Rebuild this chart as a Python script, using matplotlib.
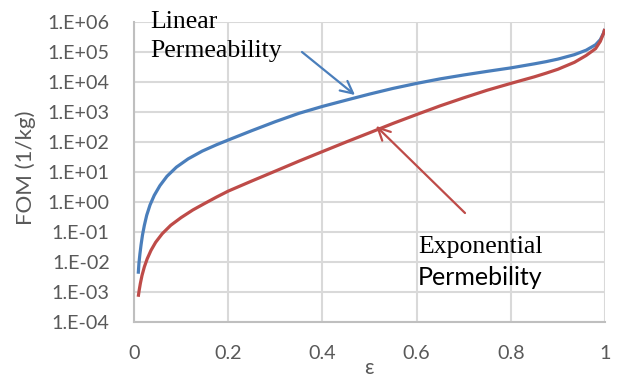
import numpy as np
import matplotlib
matplotlib.use("Agg")
import matplotlib.pyplot as plt
from matplotlib.ticker import FixedLocator, FixedFormatter

# Figure of merit vs. porosity for the two permeability models
eps_linear = [0.009, 0.0105, 0.0125, 0.015, 0.018, 0.022, 0.027, 0.034, 0.043, 0.055,
              0.07, 0.09, 0.115, 0.145, 0.175, 0.2, 0.25, 0.3, 0.35, 0.4, 0.45, 0.5,
              0.55, 0.6, 0.65, 0.7, 0.75, 0.8, 0.85, 0.875, 0.9, 0.935, 0.96, 0.98,
              0.99, 0.997, 0.9995]
fom_linear = [4.0e-3, 8.9e-3, 1.8e-2, 3.7e-2, 7.8e-2, 1.66e-1, 3.6e-1, 7.9e-1, 1.66e0, 3.5e0,
              7.2e0, 1.45e1, 2.75e1, 5.0e1, 8.1e1, 1.17e2, 2.4e2, 4.8e2, 9.1e2, 1.55e3,
              2.5e3, 4.0e3, 6.2e3, 9.1e3, 1.29e4, 1.74e4, 2.3e4, 3.0e4, 4.1e4, 4.85e4,
              5.9e4, 8.3e4, 1.17e5, 1.78e5, 2.63e5, 4.4e5, 6.0e5]

eps_expon = [0.009, 0.011, 0.0135, 0.017, 0.022, 0.028, 0.036, 0.046, 0.06, 0.078,
             0.1, 0.125, 0.15, 0.175, 0.2, 0.25, 0.3, 0.35, 0.4, 0.45, 0.5, 0.55,
             0.6, 0.65, 0.7, 0.75, 0.8, 0.85, 0.875, 0.9, 0.935, 0.96, 0.98, 0.99,
             0.997, 0.9995]
fom_expon = [6.8e-4, 1.12e-3, 1.9e-3, 3.5e-3, 6.8e-3, 1.26e-2, 2.4e-2, 4.5e-2, 8.7e-2, 1.66e-1,
             3.0e-1, 5.4e-1, 8.9e-1, 1.45e0, 2.3e0, 5.0e0, 1.07e1, 2.3e1, 4.8e1, 1.0e2,
             2.04e2, 4.2e2, 8.3e2, 1.62e3, 3.0e3, 5.4e3, 9.1e3, 1.51e4, 2.0e4, 2.7e4,
             4.6e4, 7.8e4, 1.32e5, 2.3e5, 4.3e5, 6.0e5]

x_ticks = [0, 0.2, 0.4, 0.6, 0.8, 1]
x_tick_labels = ["0", "0.2", "0.4", "0.6", "0.8", "1"]
y_ticks = [1e-4, 1e-3, 1e-2, 1e-1, 1e0, 1e1, 1e2, 1e3, 1e4, 1e5, 1e6]
y_tick_labels = ["1.E-04", "1.E-03", "1.E-02", "1.E-01", "1.E+00", "1.E+01",
                 "1.E+02", "1.E+03", "1.E+04", "1.E+05", "1.E+06"]

BLUE = "#4A7EBB"
RED = "#BE4B48"
GRAY_TXT = "#595959"
GRID = "#D9D9D9"
SANS = ["Lato", "DejaVu Sans"]
SERIF = ["Liberation Serif", "DejaVu Serif"]

W, H = 619, 379
fig = plt.figure(figsize=(W / 100, H / 100), dpi=100)
ax = fig.add_axes([134 / W, 1 - 321.7 / H, (605 - 134) / W, (321.7 - 22.3) / H])

ax.set_yscale("log")
ax.set_xlim(0, 1)
ax.set_ylim(1e-4, 1e6)

ax.plot(eps_linear, fom_linear, color=BLUE, lw=2.3, solid_capstyle="butt",
        solid_joinstyle="round", zorder=3)
ax.plot(eps_expon, fom_expon, color=RED, lw=2.3, solid_capstyle="butt",
        solid_joinstyle="round", zorder=3)

ax.xaxis.set_major_locator(FixedLocator(x_ticks))
ax.xaxis.set_major_formatter(FixedFormatter(x_tick_labels))
ax.yaxis.set_major_locator(FixedLocator(y_ticks))
ax.yaxis.set_major_formatter(FixedFormatter(y_tick_labels))
ax.yaxis.set_minor_locator(FixedLocator([]))

ax.grid(True, which="major", color=GRID, lw=1.5, zorder=0)
ax.set_axisbelow(True)
for side in ("top", "right"):
    ax.spines[side].set_visible(False)
for side in ("left", "bottom"):
    ax.spines[side].set_color("#BFBFBF")
    ax.spines[side].set_linewidth(1.5)

ax.tick_params(axis="both", length=0, labelsize=14.2, labelcolor=GRAY_TXT)
ax.tick_params(axis="y", pad=17.5)
ax.tick_params(axis="x", pad=17)
for lab in ax.get_xticklabels() + ax.get_yticklabels():
    lab.set_family(SANS)

fig.text(26 / W, 1 - 168 / H, "FOM (1/kg)", rotation=90, ha="center", va="center",
         color=GRAY_TXT, fontsize=16, family=SANS)
fig.text(369 / W, 1 - 368 / H, "ε", ha="center", va="center",
         color=GRAY_TXT, fontsize=15, family=SANS)

# Callout labels
fig.text(150 / W, 1 - 28 / H, "Linear", ha="left", va="baseline",
         fontsize=18.5, family=SERIF, color="black")
fig.text(150 / W, 1 - 57 / H, "Permeability", ha="left", va="baseline",
         fontsize=18.5, family=SERIF, color="black")
fig.text(418 / W, 1 - 253 / H, "Exponential", ha="left", va="baseline",
         fontsize=18.5, family=SERIF, color="black")
fig.text(418 / W, 1 - 285 / H, "Permebility", ha="left", va="baseline",
         fontsize=18, family=SANS, color="black")

# Callout arrows
ax.annotate("", xy=(355, H - 95), xycoords="figure pixels",
            xytext=(302, H - 52), textcoords="figure pixels",
            arrowprops=dict(arrowstyle="->", color=BLUE, lw=1.6,
                            mutation_scale=22, shrinkA=0, shrinkB=0))
ax.annotate("", xy=(376, H - 126), xycoords="figure pixels",
            xytext=(465, H - 213), textcoords="figure pixels",
            arrowprops=dict(arrowstyle="->", color=RED, lw=1.6,
                            mutation_scale=22, shrinkA=0, shrinkB=0))

fig.savefig("out.png", dpi=100)
